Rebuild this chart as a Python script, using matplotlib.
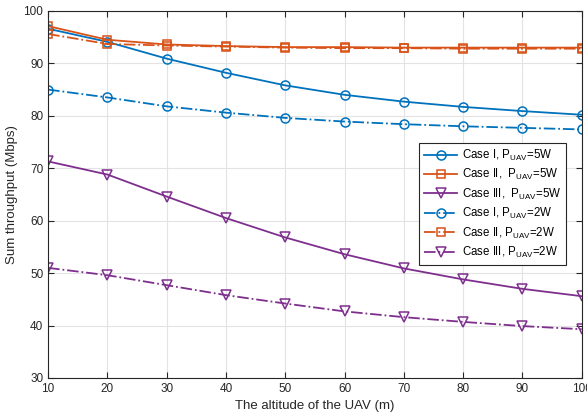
import matplotlib
matplotlib.use('Agg')
import matplotlib.pyplot as plt

plt.rcParams['font.family'] = ['Liberation Sans', 'DejaVu Sans']
plt.rcParams['mathtext.fontset'] = 'custom'
plt.rcParams['mathtext.rm'] = 'Liberation Sans'

altitude = [10, 20, 30, 40, 50, 60, 70, 80, 90, 100]

case1_5w = [96.6, 94.1, 90.9, 88.2, 85.8, 84.0, 82.7, 81.7, 80.9, 80.2]
case2_5w = [97.1, 94.5, 93.6, 93.3, 93.1, 93.1, 93.0, 93.0, 93.0, 93.0]
case3_5w = [71.3, 68.8, 64.6, 60.5, 56.8, 53.6, 50.9, 48.8, 47.0, 45.6]
case1_2w = [85.0, 83.5, 81.8, 80.6, 79.6, 78.9, 78.4, 78.0, 77.7, 77.4]
case2_2w = [95.6, 93.7, 93.4, 93.2, 93.0, 92.9, 92.9, 92.8, 92.8, 92.8]
case3_2w = [51.0, 49.6, 47.7, 45.8, 44.2, 42.7, 41.6, 40.7, 39.9, 39.3]

labels = [
    'Case I, P$_{\\mathrm{UAV}}$=5W',
    'Case II,  P$_{\\mathrm{UAV}}$=5W',
    'Case III,  P$_{\\mathrm{UAV}}$=5W',
    'Case I, P$_{\\mathrm{UAV}}$=2W',
    'Case II, P$_{\\mathrm{UAV}}$=2W',
    'Case III, P$_{\\mathrm{UAV}}$=2W',
]

blue, orange, purple = '#0072BD', '#D95319', '#7E2F8E'
series = [
    (case1_5w, blue, 'o', '-'),
    (case2_5w, orange, 's', '-'),
    (case3_5w, purple, 'v', '-'),
    (case1_2w, blue, 'o', '-.'),
    (case2_2w, orange, 's', '-.'),
    (case3_2w, purple, 'v', '-.'),
]

fig = plt.figure(figsize=(5.87, 4.20), dpi=100)
ax = fig.add_axes([0.082, 0.1, 0.909, 0.874])

for (vals, col, mk, ls), lab in zip(series, labels):
    ax.plot(altitude, vals, color=col, marker=mk, linestyle=ls, linewidth=1.3,
            markersize=6.5 if mk != 's' else 5.5, markerfacecolor='none',
            markeredgewidth=1.1, label=lab)

ax.set_xlim(10, 100)
ax.set_ylim(30, 100)
ax.set_xticks(range(10, 101, 10))
ax.set_yticks(range(30, 101, 10))
ax.grid(True, color='#e3e3e3', linewidth=0.8)
ax.set_axisbelow(True)
ax.tick_params(direction='in', top=True, right=True, labelsize=8.5, length=4,
               colors='#262626')
for s in ax.spines.values():
    s.set_color('#262626')
    s.set_linewidth(0.8)

ax.set_xlabel('The altitude of the UAV (m)', fontsize=9.5, color='#262626')
ax.set_ylabel('Sum throughput (Mbps)', fontsize=9.5, color='#262626')

leg = ax.legend(loc='upper right', bbox_to_anchor=(0.982, 0.656), fontsize=8.3,
                fancybox=False, edgecolor='#262626', framealpha=1,
                handlelength=2.9, borderpad=0.4, labelspacing=0.38,
                handletextpad=0.45)
leg.get_frame().set_linewidth(0.8)

fig.savefig('out.png', dpi=100)
